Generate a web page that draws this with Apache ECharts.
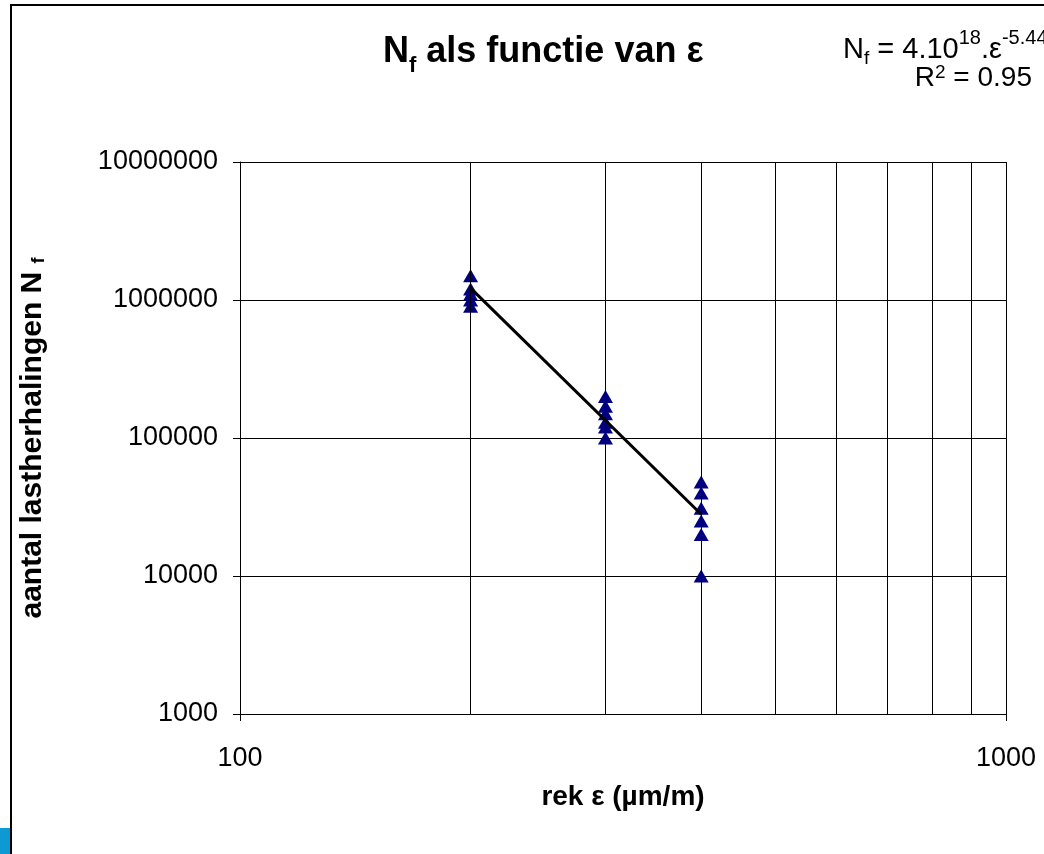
<!DOCTYPE html>
<html>
<head>
<meta charset="utf-8">
<script src="https://cdn.jsdelivr.net/npm/echarts@6/dist/echarts.min.js"></script>
<style>
html,body{margin:0;padding:0;background:#fff;}
#chart{width:1044px;height:854px;}
</style>
</head>
<body>
<div id="chart"></div>
<script>
// Data
const strain200 = [200, 200, 200, 200, 200];
const cycles200 = [1500000, 1200000, 1100000, 1000000, 900000];
const strain300 = [300, 300, 300, 300, 300, 300];
const cycles300 = [200000, 170000, 150000, 130000, 120000, 100000];
const strain400 = [400, 400, 400, 400, 400, 400];
const cycles400 = [48000, 40000, 31000, 25000, 20000, 10000];
const trendX = [200, 400];
const trendY = [1220000, 28000];
const xMinorGrid = [200, 300, 400, 500, 600, 700, 800, 900];

const pts = [];
[[strain200, cycles200], [strain300, cycles300], [strain400, cycles400]].forEach(([xs, ys]) => {
  xs.forEach((x, i) => pts.push([x, ys[i]]));
});
const trend = trendX.map((x, i) => [x, trendY[i]]);

const FONT = "'Liberation Sans', Arial, sans-serif";
const chart = echarts.init(document.getElementById('chart'), null, {renderer: 'canvas'});
chart.setOption({
  animation: false,
  backgroundColor: '#fff',
  textStyle: {fontFamily: FONT, color: '#000'},
  title: {
    left: 378, top: 25,
    text: '{n|N}{s|f}{n| als functie van ε}',
    textStyle: {
      rich: {
        n: {fontFamily: FONT, fontWeight: 'bold', fontSize: 36, color: '#000', lineHeight: 40, verticalAlign: 'bottom'},
        s: {fontFamily: FONT, fontWeight: 'bold', fontSize: 22, color: '#000', lineHeight: 30, verticalAlign: 'bottom', padding: [0,0,-7,0]}
      }
    }
  },
  grid: {left: 240, right: 38, top: 162, bottom: 140, containLabel: false},
  xAxis: {
    type: 'log', logBase: 10, min: 100, max: 1000,
    name: 'rek ε (µm/m)', nameLocation: 'middle', nameGap: 69,
    nameTextStyle: {fontFamily: FONT, fontWeight: 'bold', fontSize: 28, color: '#000'},
    axisLine: {show: true, lineStyle: {color: '#000', width: 1}},
    axisTick: {show: true, inside: false, length: 7, lineStyle: {color: '#000'}},
    axisLabel: {fontFamily: FONT, fontSize: 27, color: '#000', margin: 31, formatter: v => String(Math.round(v))},
    splitLine: {show: true, lineStyle: {color: '#000', width: 1}},
    minorTick: {show: false}
  },
  yAxis: {
    type: 'log', logBase: 10, min: 1000, max: 10000000,
    name: '{b|aantal lastherhalingen N }{s|f}', nameLocation: 'middle', nameGap: 192, nameRotate: 90,
    nameTextStyle: {
      rich: {
        b: {fontFamily: FONT, fontWeight: 'bold', fontSize: 30, color: '#000'},
        s: {fontFamily: FONT, fontWeight: 'bold', fontSize: 18, color: '#000', verticalAlign: 'bottom'}
      }
    },
    axisLine: {show: true, lineStyle: {color: '#000', width: 1}},
    axisTick: {show: true, inside: false, length: 7, lineStyle: {color: '#000'}},
    axisLabel: {fontFamily: FONT, fontSize: 27, color: '#000', margin: 22, formatter: v => String(Math.round(v))},
    splitLine: {show: true, lineStyle: {color: '#000', width: 1}}
  },
  series: [
    {
      type: 'line', data: [], z: 1, silent: true,
      markLine: {
        silent: true, symbol: 'none', animation: false,
        label: {show: false},
        lineStyle: {color: '#000', type: 'solid', width: 1},
        data: xMinorGrid.map(v => ({xAxis: v}))
      }
    },
    {
      type: 'scatter', data: pts, z: 3,
      symbol: 'triangle', symbolSize: [15, 13],
      itemStyle: {color: '#000080', opacity: 1}
    },
    {
      type: 'line', data: trend, z: 4, symbol: 'none',
      lineStyle: {color: '#000', width: 3}
    }
  ],
  graphic: [
    {type: 'polyline', shape: {points: [[11, 854], [11, 5], [1044, 5]]}, style: {stroke: '#000', lineWidth: 2, fill: null}},
    {type: 'rect', shape: {x: 0, y: 828, width: 10, height: 26}, style: {fill: '#0d9ad3'}},
    {
      type: 'text', left: 843, top: 28,
      style: {
        text: '{t|N}{sb|f}{t| = 4.10}{sp|18}{t|.ε}{sp|-5.44}',
        rich: {
          t: {fontFamily: FONT, fontSize: 29, fill: '#000', lineHeight: 36, verticalAlign: 'bottom'},
          sp: {fontFamily: FONT, fontSize: 20, fill: '#000', lineHeight: 36, verticalAlign: 'top'},
          sb: {fontFamily: FONT, fontSize: 19, fill: '#000', lineHeight: 19, verticalAlign: 'bottom', padding: [0,0,-4,0]}
        }
      }
    },
    {
      type: 'text', right: 12, top: 60,
      style: {
        text: '{t|R}{sp|2}{t| = 0.95}',
        rich: {
          t: {fontFamily: FONT, fontSize: 28, fill: '#000', lineHeight: 32, verticalAlign: 'bottom'},
          sp: {fontFamily: FONT, fontSize: 19, fill: '#000', lineHeight: 19, verticalAlign: 'top', padding: [3,0,0,0]}
        }
      }
    }
  ]
});
</script>
</body>
</html>
